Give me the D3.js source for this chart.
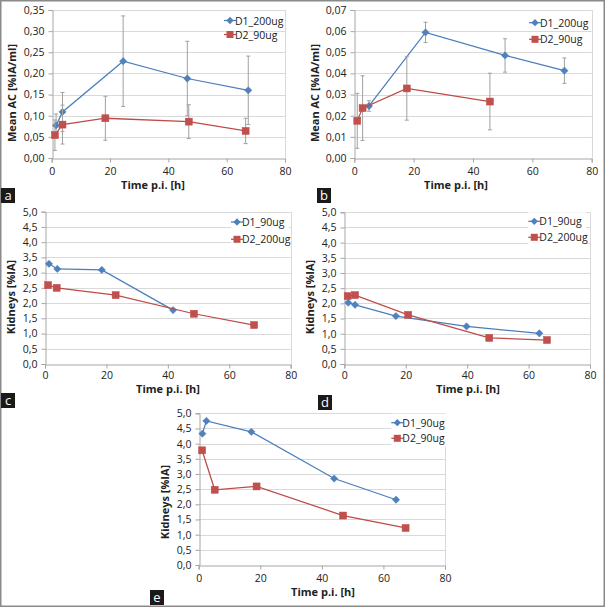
<!DOCTYPE html>
<html><head><meta charset="utf-8">
<script src="https://cdn.jsdelivr.net/npm/d3@7"></script>
<style>body{margin:0;background:#fff}svg{display:block}text{font-family:"Open Sans",Lato,sans-serif}</style>
</head><body><svg id="c" width="605" height="607"></svg>
<script>
// ---- Data ----
const xTicks = [0, 20, 40, 60, 80];

// Panel a: Mean AC [%IA/ml]
const aTicks = [0, 0.05, 0.10, 0.15, 0.20, 0.25, 0.30, 0.35];
const aD1x = [1.5, 3.7, 24.5, 46.5, 67.4];
const aD1y = [0.077, 0.109, 0.229, 0.188, 0.160];
const aD1e = [0.027, 0.046, 0.107, 0.088, 0.081];
const aD2x = [1.1, 3.7, 18.4, 47.0, 66.5];
const aD2y = [0.054, 0.079, 0.094, 0.086, 0.064];
const aD2e = [0.036, 0.046, 0.052, 0.040, 0.030];

// Panel b: Mean AC [%IA/ml]
const bTicks = [0, 0.01, 0.02, 0.03, 0.04, 0.05, 0.06, 0.07];
const bD1x = [4.95, 24.0, 50.8, 70.8];
const bD1y = [0.0246, 0.0594, 0.0485, 0.0413];
const bD1e = [0.0025, 0.0048, 0.0079, 0.0060];
const bD2x = [1.0, 2.8, 17.7, 45.7];
const bD2y = [0.0176, 0.0236, 0.0329, 0.0267];
const bD2e = [0.013, 0.0153, 0.015, 0.0134];

// Panels c, d, e: Kidneys [%IA]
const kTicks = [0, 0.5, 1, 1.5, 2, 2.5, 3, 3.5, 4, 4.5, 5];
const cD1x = [1.3, 4.0, 18.5, 41.7];
const cD1y = [3.29, 3.12, 3.09, 1.77];
const cD2x = [1.0, 3.8, 23.0, 48.5, 68.1];
const cD2y = [2.59, 2.50, 2.26, 1.65, 1.28];

const dD1x = [1.3, 3.5, 16.8, 39.8, 63.5];
const dD1y = [2.02, 1.95, 1.58, 1.24, 1.01];
const dD2x = [1.1, 3.5, 20.8, 47.2, 66.0];
const dD2y = [2.24, 2.27, 1.62, 0.86, 0.79];

const eD1x = [1.2, 2.5, 17.1, 44.0, 64.1];
const eD1y = [4.33, 4.75, 4.39, 2.85, 2.15];
const eD2x = [1.1, 5.2, 18.8, 46.9, 67.2];
const eD2y = [3.78, 2.48, 2.59, 1.63, 1.22];

const panels = [
  {id:"a", box:[51.7,10,285,158], ymax:0.35, ticks:aTicks, dec:2, ytitle:"Mean AC [%IA/ml]",
   ytx:12, yty:93, tickDy:18.5, titleY:189, titleX:153, lab:[1,188],
   leg:[[230,20.5],[230,34.5]], names:["D1_200ug","D2_90ug"],
   s1:[aD1x,aD1y,aD1e], s2:[aD2x,aD2y,aD2e]},
  {id:"b", box:[354.3,10,591.7,158], ymax:0.07, ticks:bTicks, dec:2, ytitle:"Mean AC [%IA/ml]",
   ytx:315, yty:93, tickDy:18.5, titleY:189, titleX:456, lab:[317,188],
   leg:[[535,22.7],[535,39.3]], names:["D1_200ug","D2_90ug"],
   s1:[bD1x,bD1y,bD1e], s2:[bD2x,bD2y,bD2e]},
  {id:"c", box:[45,211.7,290.7,364], ymax:5, ticks:kTicks, dec:1, ytitle:"Kidneys [%IA]",
   ytx:11, yty:297, tickDy:16, titleY:392.5, titleX:168, lab:[1,393],
   leg:[[237,222],[237,239.3]], names:["D1_90ug","D2_200ug"],
   s1:[cD1x,cD1y,null], s2:[cD2x,cD2y,null], legBox:true},
  {id:"d", box:[344.3,212.3,590,364], ymax:5, ticks:kTicks, dec:1, ytitle:"Kidneys [%IA]",
   ytx:310, yty:297, tickDy:16, titleY:392.5, titleX:468, lab:[318,395],
   leg:[[534.3,221.3],[534.3,237.3]], names:["D1_90ug","D2_200ug"],
   s1:[dD1x,dD1y,null], s2:[dD2x,dD2y,null], legBox:true},
  {id:"e", box:[198.7,413.3,445,565], ymax:5, ticks:kTicks, dec:1, ytitle:"Kidneys [%IA]",
   ytx:165, yty:502, tickDy:18, titleY:596, titleX:323, lab:[150,590],
   leg:[[397.3,422.7],[397.3,438.3]], names:["D1_90ug","D2_90ug"],
   s1:[eD1x,eD1y,null], s2:[eD2x,eD2y,null], legBox:true}
];

const blue = "#4A7EBB", blueM = "#4F81BD", red = "#BE4B48", redM = "#C0504D";
const FS = 10.5;
const svg = d3.select("#c");
const fmt = dec => v => v.toFixed(dec).replace(".", ",");
const diamond = d3.symbol().type(d3.symbolDiamond2 || d3.symbolDiamond).size(34);

// outer border
svg.append("rect").attr("x",0.75).attr("y",0.75).attr("width",603.5).attr("height",605.5)
  .attr("fill","none").attr("stroke","#8a8a8a").attr("stroke-width",1.5);

panels.forEach(p => {
  const [l,t,r,b] = p.box;
  const x = d3.scaleLinear().domain([0,80]).range([l,r]);
  const y = d3.scaleLinear().domain([0,p.ymax]).range([b,t]);
  const g = svg.append("g");

  // gridlines
  g.append("g").selectAll("line").data(p.ticks.filter(v=>v>0)).join("line")
    .attr("x1",l).attr("x2",r).attr("y1",d=>Math.round(y(d))+0.5).attr("y2",d=>Math.round(y(d))+0.5)
    .attr("stroke","#d9d9d9").attr("stroke-width",1);
  // plot area right border
  g.append("line").attr("x1",Math.round(r)+0.5).attr("x2",Math.round(r)+0.5).attr("y1",t).attr("y2",b)
    .attr("stroke","#d9d9d9");

  // axes
  const ya = d3.axisLeft(y).tickValues(p.ticks).tickFormat(fmt(p.dec)).tickSize(4).tickPadding(4);
  const yg = g.append("g").attr("transform",`translate(${Math.round(l)+0.5},0)`).call(ya);
  const xa = d3.axisBottom(x).tickValues(xTicks).tickFormat(d3.format("d")).tickSize(4).tickPadding(p.tickDy-13);
  const xg = g.append("g").attr("transform",`translate(0,${Math.round(b)+0.5})`).call(xa);
  [yg,xg].forEach(ax => {
    ax.select(".domain").attr("stroke","#a6a6a6");
    ax.selectAll(".tick line").attr("stroke","#a6a6a6");
    ax.selectAll(".tick text").attr("fill","#222").attr("font-size",FS);
  });

  // axis titles
  g.append("text").attr("x",p.titleX).attr("y",p.titleY).attr("text-anchor","middle")
    .attr("font-size",11).attr("font-weight","bold").attr("fill","#222").text("Time p.i. [h]");
  g.append("text").attr("transform",`translate(${p.ytx+4},${p.yty}) rotate(-90)`).attr("text-anchor","middle")
    .attr("font-size",11).attr("font-weight","bold").attr("fill","#222").text(p.ytitle);

  // series
  const series = [[p.s1, blue, blueM, "d"], [p.s2, red, redM, "s"]];
  series.forEach(([s, lc, mc, shape]) => {
    const [xs, ys, es] = s;
    const pts = xs.map((v,i)=>({x:v, y:ys[i], e: es ? es[i] : null}));
    if (es) {
      const eg = g.append("g");
      pts.forEach(d => {
        const y1 = y(d.y + d.e), y2 = y(Math.max(0, d.y - d.e)), cx = x(d.x);
        eg.append("line").attr("x1",cx).attr("x2",cx).attr("y1",y1).attr("y2",y2).attr("stroke","#a0a0a0").attr("stroke-width",1);
        [y1,y2].forEach(yy => eg.append("line").attr("x1",cx-2).attr("x2",cx+2).attr("y1",yy).attr("y2",yy).attr("stroke","#a0a0a0").attr("stroke-width",1));
      });
    }
    g.append("path").datum(pts).attr("fill","none").attr("stroke",lc).attr("stroke-width",1.25)
      .attr("d", d3.line().x(d=>x(d.x)).y(d=>y(d.y)));
    pts.forEach(d => {
      if (shape==="d") g.append("path").attr("d",diamond).attr("transform",`translate(${x(d.x)},${y(d.y)})`).attr("fill",mc).attr("stroke",lc).attr("stroke-width",0.5);
      else g.append("rect").attr("x",x(d.x)-3.5).attr("y",y(d.y)-3.5).attr("width",7).attr("height",7).attr("fill",mc).attr("stroke",red).attr("stroke-width",0.5);
    });
  });

  // legend
  p.leg.forEach(([lx,ly],i) => {
    const lc = i===0?blue:red, mc = i===0?blueM:redM;
    if (p.legBox && i===0) {
      g.append("rect").attr("x",lx-6).attr("y",ly-9).attr("width",58).attr("height",33).attr("fill","#fff");
    }
    g.append("line").attr("x1",lx-6).attr("x2",lx+6).attr("y1",ly).attr("y2",ly).attr("stroke",lc).attr("stroke-width",1.25);
    if (i===0) g.append("path").attr("d",diamond).attr("transform",`translate(${lx},${ly})`).attr("fill",mc);
    else g.append("rect").attr("x",lx-3.5).attr("y",ly-3.5).attr("width",7).attr("height",7).attr("fill",mc);
    g.append("text").attr("x",lx+5).attr("y",ly+4).attr("font-size",FS).attr("fill","#222").text(p.names[i]);
  });

  // panel label
  g.append("rect").attr("x",p.lab[0]).attr("y",p.lab[1]).attr("width",14).attr("height",15).attr("fill","#1a1a1a");
  g.append("text").attr("x",p.lab[0]+7).attr("y",p.lab[1]+12).attr("text-anchor","middle")
    .attr("font-size",13).attr("fill","#fff").text(p.id);
});
</script></body></html>
